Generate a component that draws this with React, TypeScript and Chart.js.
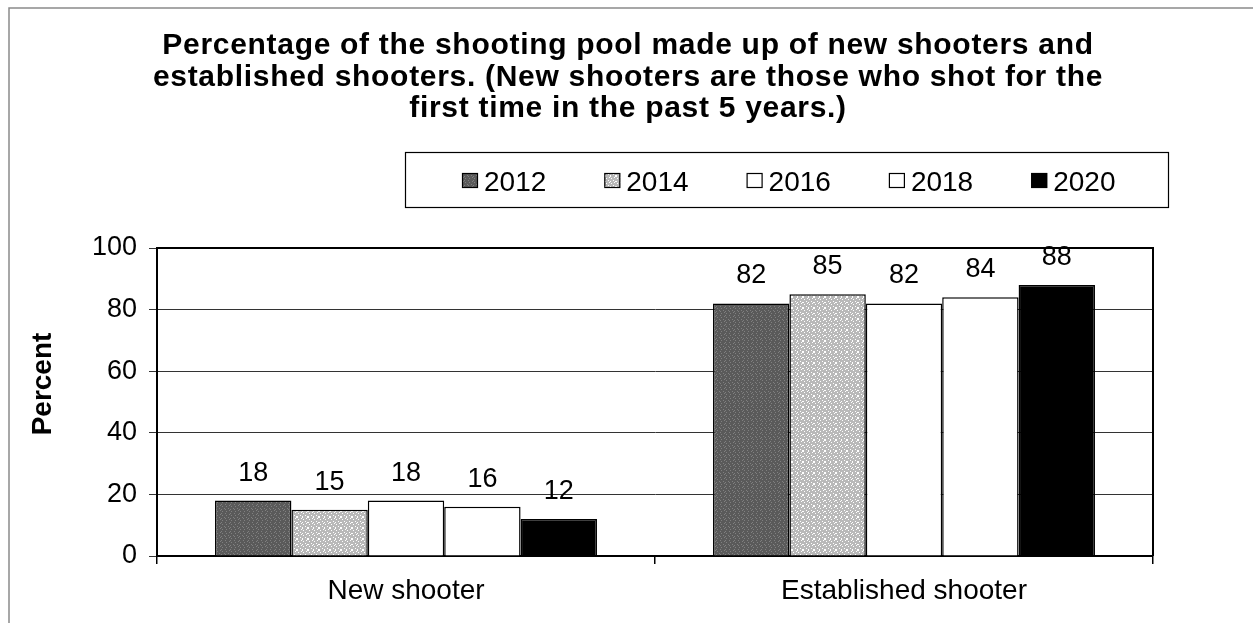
import React, { useEffect, useRef } from "react";
import { Chart, registerables } from "chart.js";

Chart.register(...registerables);

const categories = ["New shooter", "Established shooter"];
const years = ["2012", "2014", "2016", "2018", "2020"];
const values2012 = [18, 82];
const values2014 = [15, 85];
const values2016 = [18, 82];
const values2018 = [16, 84];
const values2020 = [12, 88];
const yTicks = [0, 20, 40, 60, 80, 100];
const titleLines = [
  "Percentage of the shooting pool made up of new shooters and",
  "established shooters. (New shooters are those who shot for the",
  "first time in the past 5 years.)",
];
const yAxisTitle = "Percent";

const FONT = '"Liberation Sans", Arial, Helvetica, sans-serif';

function makePattern(base: string, spot: string, mod: number, size: number) {
  const c = document.createElement("canvas");
  c.width = size;
  c.height = size;
  const g = c.getContext("2d")!;
  g.fillStyle = base;
  g.fillRect(0, 0, size, size);
  g.fillStyle = spot;
  for (let y = 0; y < size; y++) {
    for (let x = 0; x < size; x++) {
      if ((x * 7 + y * 3 + x * y) % mod === 0) g.fillRect(x, y, 1, 1);
    }
  }
  return g.createPattern(c, "repeat") as CanvasPattern;
}

export default function App() {
  const canvasRef = useRef<HTMLCanvasElement | null>(null);

  useEffect(() => {
    if (!canvasRef.current) return;
    const dark = makePattern("#5a5a5a", "#808080", 5, 9);
    const light = makePattern("#b9b9b9", "#ffffff", 5, 11);
    const fills: (string | CanvasPattern)[] = [dark, light, "#ffffff", "#ffffff", "#000000"];
    const seriesValues = [values2012, values2014, values2016, values2018, values2020];

    const decor = {
      id: "decor",
      afterDatasetsDraw(chart: any) {
        const ctx = chart.ctx as CanvasRenderingContext2D;
        const area = chart.chartArea;
        ctx.save();
        ctx.strokeStyle = "#000";
        ctx.lineWidth = 2;
        ctx.beginPath();
        ctx.moveTo(area.left, area.top);
        ctx.lineTo(area.right, area.top);
        ctx.lineTo(area.right, area.bottom);
        ctx.stroke();
        ctx.fillStyle = "#000";
        ctx.font = `27px ${FONT}`;
        ctx.textAlign = "center";
        ctx.textBaseline = "alphabetic";
        chart.data.datasets.forEach((ds: any, i: number) => {
          const meta = chart.getDatasetMeta(i);
          meta.data.forEach((bar: any, j: number) => {
            ctx.fillText(String(ds.data[j]), bar.x, bar.y - 20);
          });
        });
        ctx.restore();
      },
      afterDraw(chart: any) {
        const ctx = chart.ctx as CanvasRenderingContext2D;
        ctx.save();
        ctx.strokeStyle = "#8a8a8a";
        ctx.lineWidth = 1.5;
        ctx.beginPath();
        ctx.moveTo(9, 623);
        ctx.lineTo(9, 8);
        ctx.lineTo(1253, 8);
        ctx.stroke();
        ctx.fillStyle = "#000";
        ctx.font = `bold 30px ${FONT}`;
        (ctx as any).letterSpacing = "0.7px";
        ctx.textAlign = "center";
        ctx.textBaseline = "alphabetic";
        titleLines.forEach((line, k) => {
          ctx.fillText(line, 628, 54 + k * 31.5);
        });
        (ctx as any).letterSpacing = "0px";
        ctx.strokeStyle = "#000";
        ctx.lineWidth = 1.2;
        ctx.strokeRect(405.5, 152.5, 763, 55);
        ctx.font = `28px ${FONT}`;
        ctx.textAlign = "left";
        years.forEach((yr, i) => {
          const x = 462 + i * 142.3;
          ctx.fillStyle = fills[i] as any;
          ctx.fillRect(x, 173, 16, 15);
          ctx.strokeStyle = "#000";
          ctx.lineWidth = 1.2;
          ctx.strokeRect(x + 0.5, 173.5, 15, 14);
          ctx.fillStyle = "#000";
          ctx.fillText(yr, x + 22, 191);
        });
        ctx.translate(43, 384);
        ctx.rotate(-Math.PI / 2);
        ctx.font = `bold 28px ${FONT}`;
        ctx.textAlign = "center";
        ctx.textBaseline = "middle";
        ctx.fillText(yAxisTitle, 0, 0);
        ctx.restore();
      },
    };

    const chart = new Chart(canvasRef.current, {
      type: "bar",
      data: {
        labels: categories,
        datasets: years.map((yr, i) => ({
          label: yr,
          data: seriesValues[i],
          backgroundColor: fills[i] as any,
          borderColor: "#000",
          borderWidth: 1.5,
          categoryPercentage: 0.767,
          barPercentage: 1.0,
        })),
      },
      options: {
        animation: false,
        responsive: true,
        maintainAspectRatio: false,
        layout: { padding: { top: 248, right: 100, left: 0, bottom: 0 } },
        plugins: {
          legend: { display: false },
          title: { display: false },
          tooltip: { enabled: false },
        },
        scales: {
          x: {
            afterFit(scale: any) {
              scale.height = 67;
            },
            ticks: { font: { family: FONT, size: 28 }, color: "#000", padding: 10 },
            grid: {
              display: true,
              drawOnChartArea: false,
              offset: true,
              tickLength: 8,
              color: "#000",
              lineWidth: 1.5,
            },
            border: { color: "#000", width: 2 },
          },
          y: {
            min: 0,
            max: 100,
            afterFit(scale: any) {
              scale.width = 157;
            },
            afterBuildTicks(scale: any) {
              scale.ticks = yTicks.map((v) => ({ value: v }));
            },
            ticks: { font: { family: FONT, size: 27 }, color: "#000", padding: 12 },
            grid: { color: "#333", lineWidth: 1, tickLength: 8, drawTicks: true },
            border: { color: "#000", width: 2 },
          },
        },
      },
      plugins: [decor],
    });
    return () => chart.destroy();
  }, []);

  return (
    <div style={{ position: "fixed", left: 0, top: 0, width: 1253, height: 623, background: "#fff" }}>
      <canvas ref={canvasRef} />
    </div>
  );
}
